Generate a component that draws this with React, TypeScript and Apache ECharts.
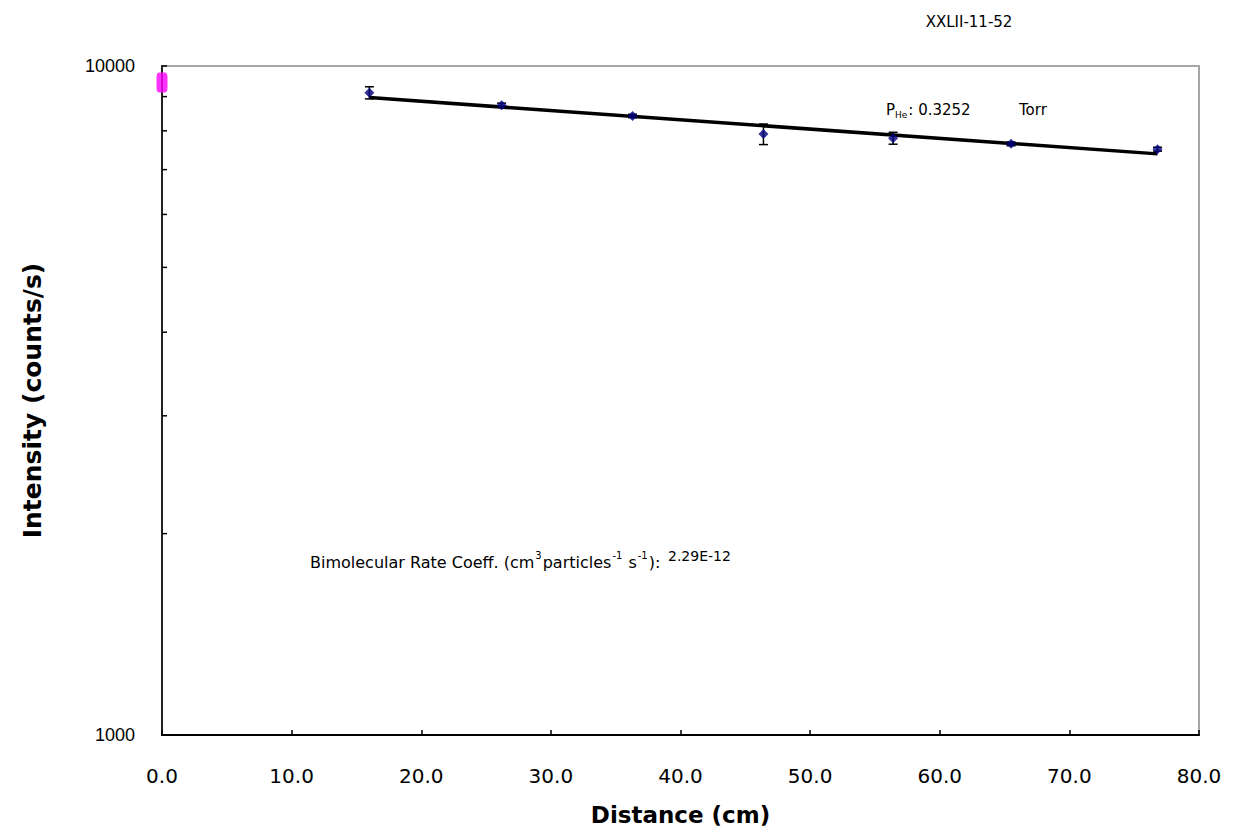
import React, { useEffect, useRef } from "react";
import * as echarts from "echarts";

// Measured data points
const distance = [16.0, 26.2, 36.3, 46.4, 56.4, 65.5, 76.8];
const intensity = [9120, 8740, 8420, 7910, 7800, 7650, 7510];
const intensityErr = [190, 60, 50, 280, 160, 50, 50];

// Reference point at zero distance
const refDistance = [0];
const refIntensity = [9450];

// Fitted exponential decay (straight line on log axis), endpoints
const fitDistance = [16.0, 76.8];
const fitIntensity = [8970, 7390];

// Axis ticks
const xTicks = [0, 10, 20, 30, 40, 50, 60, 70, 80];
const yMin = 1000;
const yMax = 10000;
const yMinorTicks = [2000, 3000, 4000, 5000, 6000, 7000, 8000, 9000];

const ARIAL = "'Liberation Sans', Arial, sans-serif";
const WIDE = "'DejaVu Sans', 'Liberation Sans', sans-serif";

export default function App() {
  const ref = useRef<HTMLDivElement>(null);

  useEffect(() => {
    if (!ref.current) return;
    const chart = echarts.init(ref.current, undefined, { renderer: "svg" });

    const option: any = {
      animation: false,
      backgroundColor: "#ffffff",
      grid: {
        left: 162,
        right: 36,
        top: 66,
        bottom: 100,
        show: true,
        borderColor: "#a6a6a6",
        borderWidth: 2,
        containLabel: false,
      },
      xAxis: {
        type: "value",
        min: xTicks[0],
        max: xTicks[xTicks.length - 1],
        interval: 10,
        name: "Distance (cm)",
        nameLocation: "middle",
        nameGap: 68,
        nameTextStyle: {
          fontFamily: WIDE,
          fontSize: 23,
          fontWeight: "bold",
          color: "#000",
        },
        axisLine: { show: true, onZero: false, lineStyle: { color: "#000", width: 2 } },
        axisTick: { show: true, inside: true, length: 5, lineStyle: { color: "#000", width: 1.5 } },
        axisLabel: {
          margin: 31,
          fontFamily: WIDE,
          fontSize: 20,
          color: "#000",
          formatter: (v: number) => v.toFixed(1),
        },
        splitLine: { show: false },
      },
      yAxis: {
        type: "log",
        logBase: 10,
        min: yMin,
        max: yMax,
        name: "Intensity (counts/s)",
        nameLocation: "middle",
        nameGap: 117,
        nameTextStyle: {
          fontFamily: WIDE,
          fontSize: 25,
          fontWeight: "bold",
          color: "#000",
        },
        axisLine: { show: true, onZero: false, lineStyle: { color: "#222", width: 2 } },
        axisTick: { show: true, inside: true, length: 5, lineStyle: { color: "#000", width: 1.5 } },
        axisLabel: {
          margin: 27,
          fontFamily: ARIAL,
          fontSize: 18,
          color: "#000",
          formatter: (v: number) => String(Math.round(v)),
        },
        splitLine: { show: false },
        minorTick: { show: false },
      },
      series: [
        {
          type: "custom",
          name: "minorTicks",
          silent: true,
          clip: false,
          data: yMinorTicks.map((v) => [0, v]),
          renderItem: (params: any, api: any) => {
            const p = api.coord([api.value(0), api.value(1)]);
            return {
              type: "line",
              shape: { x1: p[0], y1: p[1], x2: p[0] + 5, y2: p[1] },
              style: { stroke: "#000", lineWidth: 1.5 },
            };
          },
          z: 5,
        },
        {
          type: "line",
          name: "fit",
          data: fitDistance.map((x, i) => [x, fitIntensity[i]]),
          symbol: "none",
          lineStyle: { color: "#000", width: 3.5 },
          z: 2,
        },
        {
          type: "custom",
          name: "errors",
          clip: false,
          data: distance.map((x, i) => [x, intensity[i], intensityErr[i]]),
          renderItem: (params: any, api: any) => {
            const x = api.value(0);
            const y = api.value(1);
            const e = api.value(2);
            const top = api.coord([x, y + e]);
            const bot = api.coord([x, y - e]);
            const hw = 4.5;
            const st = { stroke: "#000", lineWidth: 1.5 };
            return {
              type: "group",
              children: [
                { type: "line", shape: { x1: top[0], y1: top[1], x2: bot[0], y2: bot[1] }, style: st },
                { type: "line", shape: { x1: top[0] - hw, y1: top[1], x2: top[0] + hw, y2: top[1] }, style: st },
                { type: "line", shape: { x1: bot[0] - hw, y1: bot[1], x2: bot[0] + hw, y2: bot[1] }, style: st },
              ],
            };
          },
          z: 3,
        },
        {
          type: "scatter",
          name: "data",
          data: distance.map((x, i) => [x, intensity[i]]),
          symbol: "diamond",
          symbolSize: 10,
          itemStyle: { color: "#000080" },
          z: 4,
        },
        {
          type: "scatter",
          name: "reference",
          clip: false,
          data: refDistance.map((x, i) => [x, refIntensity[i]]),
          symbol: "roundRect",
          symbolSize: [11, 20],
          itemStyle: { color: "#ff00ff" },
          z: 6,
        },
      ],
      graphic: [
        {
          type: "text",
          x: 969,
          y: 22,
          style: {
            text: "XXLII-11-52",
            fontFamily: WIDE,
            fontSize: 15,
            fill: "#000",
            align: "center",
            verticalAlign: "middle",
          },
        },
        {
          type: "text",
          x: 886,
          y: 101,
          style: {
            text: "{p|P}{s|He}{t|: 0.3252}",
            rich: {
              p: { fontFamily: WIDE, fontSize: 15, fill: "#000" },
              s: { fontFamily: WIDE, fontSize: 9, fill: "#000", padding: [9, 1, 0, 0] },
              t: { fontFamily: WIDE, fontSize: 15, fill: "#000" },
            },
          },
        },
        {
          type: "text",
          x: 1019,
          y: 102,
          style: {
            text: "Torr",
            fontFamily: WIDE,
            fontSize: 15,
            fill: "#000",
          },
        },
        {
          type: "text",
          x: 310,
          y: 547,
          style: {
            text:
              "{t|Bimolecular Rate Coeff. (cm}{u|3}{t|particles}{u|-1}{t| s}{u|-1}{t|):}",
            rich: {
              t: { fontFamily: WIDE, fontSize: 16, fill: "#000", padding: [7, 0, 0, 0] },
              u: { fontFamily: WIDE, fontSize: 10, fill: "#000", padding: [0, 1, 7, 1] },
            },
          },
        },
        {
          type: "text",
          x: 668,
          y: 549,
          style: {
            text: "2.29E-12",
            fontFamily: WIDE,
            fontSize: 14,
            fill: "#000",
          },
        },
      ],
    };

    chart.setOption(option);
    return () => chart.dispose();
  }, []);

  return (
    <div
      ref={ref}
      style={{ position: "absolute", left: 0, top: 0, width: 1235, height: 835 }}
    />
  );
}
